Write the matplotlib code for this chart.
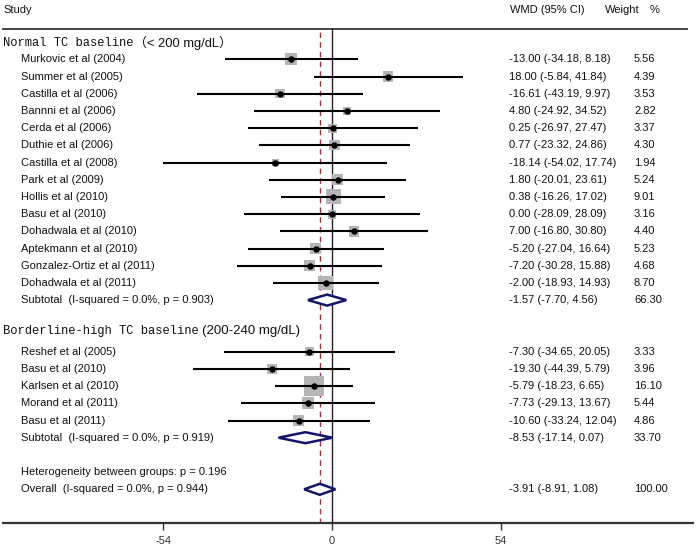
import matplotlib
matplotlib.use("Agg")
import matplotlib.pyplot as plt
from matplotlib.patches import Polygon
import matplotlib.transforms as mtransforms

# ---------------- data ----------------
g1_studies = ["Murkovic et al (2004)", "Summer et al (2005)", "Castilla et al (2006)",
              "Bannni et al (2006)", "Cerda et al (2006)", "Duthie et al (2006)",
              "Castilla et al (2008)", "Park et al (2009)", "Hollis et al (2010)",
              "Basu et al (2010)", "Dohadwala et al (2010)", "Aptekmann et al (2010)",
              "Gonzalez-Ortiz et al (2011)", "Dohadwala et al (2011)"]
g1_est = [-13.00, 18.00, -16.61, 4.80, 0.25, 0.77, -18.14, 1.80, 0.38, 0.00, 7.00, -5.20, -7.20, -2.00]
g1_lo = [-34.18, -5.84, -43.19, -24.92, -26.97, -23.32, -54.02, -20.01, -16.26, -28.09, -16.80, -27.04, -30.28, -18.93]
g1_hi = [8.18, 41.84, 9.97, 34.52, 27.47, 24.86, 17.74, 23.61, 17.02, 28.09, 30.80, 16.64, 15.88, 14.93]
g1_w = [5.56, 4.39, 3.53, 2.82, 3.37, 4.30, 1.94, 5.24, 9.01, 3.16, 4.40, 5.23, 4.68, 8.70]
g1_sub = (-1.57, -7.70, 4.56, 66.30)
g1_sub_label = "Subtotal  (I-squared = 0.0%, p = 0.903)"

g2_studies = ["Reshef et al (2005)", "Basu et al (2010)", "Karlsen et al (2010)",
              "Morand et al (2011)", "Basu et al (2011)"]
g2_est = [-7.30, -19.30, -5.79, -7.73, -10.60]
g2_lo = [-34.65, -44.39, -18.23, -29.13, -33.24]
g2_hi = [20.05, 5.79, 6.65, 13.67, 12.04]
g2_w = [3.33, 3.96, 16.10, 5.44, 4.86]
g2_sub = (-8.53, -17.14, 0.07, 33.70)
g2_sub_label = "Subtotal  (I-squared = 0.0%, p = 0.919)"

overall = (-3.91, -8.91, 1.08, 100.00)
overall_label = "Overall  (I-squared = 0.0%, p = 0.944)"
het_label = "Heterogeneity between groups: p = 0.196"

xticks = [-54, 0, 54]

# ---------------- layout ----------------
W, H = 697, 551
fig = plt.figure(figsize=(W / 100, H / 100), dpi=100)
axis_px = 523
ax = fig.add_axes([0, (H - axis_px) / H, 1, axis_px / H])
scale = 3.124
zero_px = 332.0
ax.set_xlim(-zero_px / scale, (W - zero_px) / scale)
row_px0, row_step = 59.3, 17.2
ax.set_ylim(1 + (axis_px - row_px0) / row_step, 1 - row_px0 / row_step)

def fx(px):
    return px / W

trans = mtransforms.blended_transform_factory(ax.transAxes, ax.transData)

sans = "Liberation Sans"
fs = 8
txt_col = "#111111"

# rows
g1_rows = list(range(1, 15))
g1_sub_row = 15
g2_head_row = 16.74
g2_rows = list(range(18, 23))
g2_sub_row = 23
het_row = 25
overall_row = 26
head_row = -1.87
topline_row = -0.76

# spines/axis
for s in ["left", "right", "top"]:
    ax.spines[s].set_visible(False)
ax.spines["bottom"].set_linewidth(1.6)
ax.spines["bottom"].set_color("#333333")
ax.spines["bottom"].set_bounds((3 - zero_px) / scale, (693 - zero_px) / scale)
ax.set_yticks([])
ax.set_xticks(xticks)
ax.set_xticklabels([str(t) for t in xticks], fontsize=fs, family=sans, color=txt_col)
ax.tick_params(axis="x", direction="out", length=5, width=1.0, pad=4, colors="#333333")

# top rule
ax.plot([fx(3), fx(687)], [topline_row, topline_row], transform=trans,
        color="#444444", lw=1.4, clip_on=False)

# reference lines
ax.plot([0, 0], [topline_row, ax.get_ylim()[0]], color="#222222", lw=1.0)
ax.plot([overall[0], overall[0]], [topline_row + 0.2, ax.get_ylim()[0]],
        color="#a0303a", lw=1.0, dashes=(4, 3))

# headers
ax.text(fx(3), head_row, "Study", transform=trans, fontsize=fs, family=sans,
        va="center", ha="left", color=txt_col)
ax.text(fx(510), head_row, "WMD (95% CI)", transform=trans, fontsize=fs, family=sans,
        va="center", ha="left", color=txt_col)
ax.text(fx(605), head_row, "Weight", transform=trans, fontsize=fs, family=sans,
        va="center", ha="left", color=txt_col)
ax.text(fx(650), head_row, "%", transform=trans, fontsize=fs, family=sans,
        va="center", ha="left", color=txt_col)

# group headers
t1 = ax.text(fx(3), 0.25, "Normal TC baseline", transform=trans, fontsize=8.7,
             family="Liberation Mono", va="baseline", ha="left", color=txt_col)
ax.annotate("（< 200 mg/dL）", xy=(1, 0), xycoords=t1, xytext=(0, -0.5),
            textcoords="offset points", fontsize=9.3,
            family=[sans, "Noto Sans CJK SC"], va="bottom", ha="left", color=txt_col)
t2 = ax.text(fx(3), g2_head_row + 0.25, "Borderline-high TC baseline", transform=trans,
             fontsize=8.7, family="Liberation Mono", va="baseline", ha="left", color=txt_col)
ax.annotate("(200-240 mg/dL)", xy=(1, 0), xycoords=t2, xytext=(2, 0),
            textcoords="offset points", fontsize=9.5, family=sans,
            va="bottom", ha="left", color=txt_col)

def study_rows(names, est, lo, hi, w, rows):
    for n, e, l, h, wt, r in zip(names, est, lo, hi, w, rows):
        ax.text(fx(21), r, n, transform=trans, fontsize=fs, family=sans,
                va="center", ha="left", color=txt_col)
        ax.text(fx(509), r, f"{e:.2f} ({l:.2f}, {h:.2f})", transform=trans, fontsize=fs,
                family=sans, va="center", ha="left", color=txt_col)
        ax.text(fx(634), r, f"{wt:.2f}", transform=trans, fontsize=fs, family=sans,
                va="center", ha="left", color=txt_col)
    ax.hlines(rows, lo, hi, color="black", lw=1.5, zorder=3)
    ax.scatter(est, rows, s=[13 * x for x in w], marker="s", color="#b5b5b5",
               edgecolors="none", zorder=2)
    ax.plot(est, rows, "o", color="black", ms=3.6, zorder=4)

def diamond(vals, r, label):
    e, l, h, wt = vals
    hh = 0.32
    poly = Polygon([(l, r), (e, r - hh), (h, r), (e, r + hh)], closed=True,
                   facecolor="white", edgecolor="#14146e", lw=1.8, zorder=5)
    ax.add_patch(poly)
    ax.text(fx(21), r, label, transform=trans, fontsize=fs, family=sans,
            va="center", ha="left", color=txt_col)
    ax.text(fx(509), r, f"{e:.2f} ({l:.2f}, {h:.2f})", transform=trans, fontsize=fs,
            family=sans, va="center", ha="left", color=txt_col)
    ax.text(fx(634), r, f"{wt:.2f}", transform=trans, fontsize=fs, family=sans,
            va="center", ha="left", color=txt_col)

study_rows(g1_studies, g1_est, g1_lo, g1_hi, g1_w, g1_rows)
diamond(g1_sub, g1_sub_row, g1_sub_label)
study_rows(g2_studies, g2_est, g2_lo, g2_hi, g2_w, g2_rows)
diamond(g2_sub, g2_sub_row, g2_sub_label)
ax.text(fx(21), het_row, het_label, transform=trans, fontsize=fs, family=sans,
        va="center", ha="left", color=txt_col)
diamond(overall, overall_row, overall_label)

fig.savefig("out.png", dpi=100, facecolor="white")
